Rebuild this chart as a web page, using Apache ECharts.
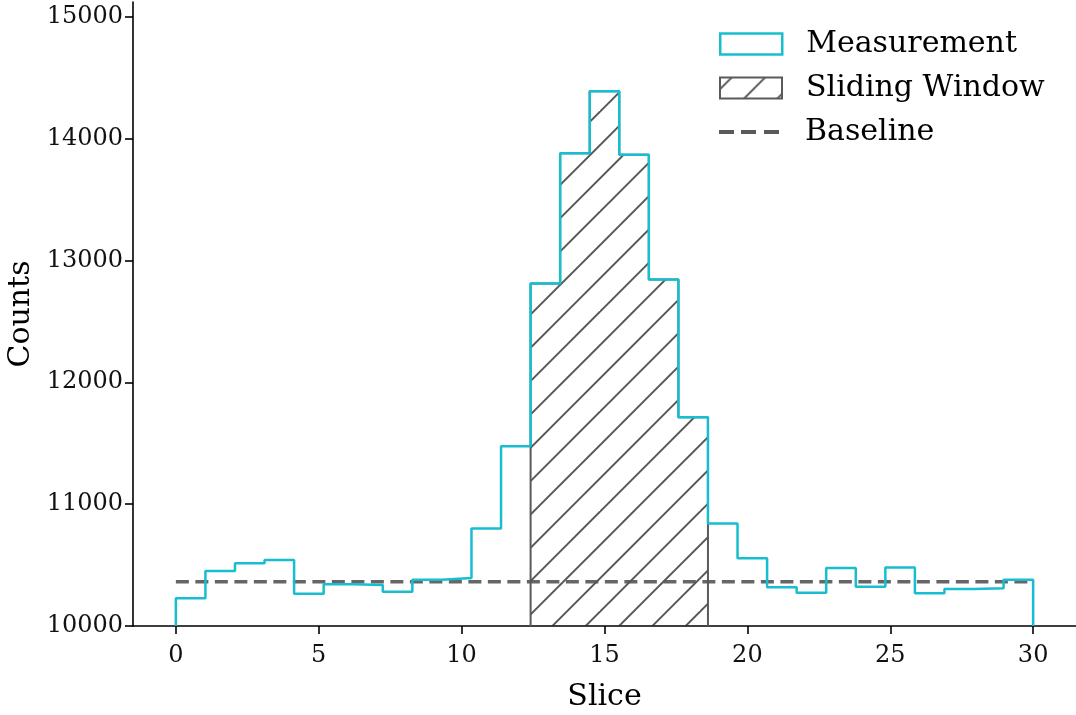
<!DOCTYPE html>
<html>
<head>
<meta charset="utf-8">
<script src="https://cdn.jsdelivr.net/npm/echarts@6/dist/echarts.min.js"></script>
<style>
  html, body { margin: 0; padding: 0; background: #fff; }
  #box { width: 1076px; height: 715px; }
</style>
</head>
<body>
<div id="box"></div>
<script>
// histogram counts per slice bin (29 bins spanning 0..30)
const counts = [10227, 10451, 10514, 10541, 10265, 10342, 10336, 10281, 10380, 10393,
  10800, 11475, 12811, 13880, 14388, 13866, 12844, 11713, 10842, 10555,
  10317, 10273, 10475, 10322, 10481, 10268, 10303, 10309, 10380];
const sliceRange = [0, 30];
// sliding window covers bins 12..17
const windowBins = [12, 18];
const baseline = 10363;
const xTicks = [0, 5, 10, 15, 20, 25, 30];
const yTicks = [10000, 11000, 12000, 13000, 14000, 15000];

const yMin = 10000;
const font = "DejaVu Serif";
const cyan = "#17becf";
const gray = "#5a5a5a";

// bin edges
const nBins = counts.length;
const edges = [];
for (let i = 0; i <= nBins; i++) {
  edges.push(sliceRange[0] + (sliceRange[1] - sliceRange[0]) * i / nBins);
}

// step outline between two bin indices
function stepPath(from, to) {
  const pts = [[edges[from], yMin]];
  for (let i = from; i < to; i++) {
    pts.push([edges[i], counts[i]]);
    pts.push([edges[i + 1], counts[i]]);
  }
  pts.push([edges[to], yMin]);
  return pts;
}

// hatch tile "/"
function hatchTile() {
  const c = document.createElement("canvas");
  c.width = 100;
  c.height = 100;
  const ctx = c.getContext("2d");
  ctx.strokeStyle = "rgba(45,45,45,0.8)";
  ctx.lineWidth = 1.9;
  const sp = 100 / 3;
  for (let k = -4; k <= 8; k++) {
    const s = 11.7 + k * sp; // x + y = s
    ctx.beginPath();
    ctx.moveTo(s + 50, -50);
    ctx.lineTo(s - 150, 150);
    ctx.stroke();
  }
  return c;
}
const hatch = { image: hatchTile(), repeat: "repeat" };

const legendText = { fontFamily: font, fontSize: 30, color: "#000", padding: [0, 0, 0, 19] };

const myChart = echarts.init(document.getElementById("box"));
const option = {
  backgroundColor: "#fff",
  animation: false,
  textStyle: { fontFamily: font },
  grid: { left: 133, right: 0, top: 2, bottom: 89, containLabel: false, outerBoundsMode: "none" },
  legend: [
    {
      left: 719, top: 29, padding: 0,
      itemWidth: 62, itemHeight: 21,
      textStyle: legendText,
      data: [{ name: "Measurement", icon: "rect",
        itemStyle: { color: "rgba(0,0,0,0)", borderColor: cyan, borderWidth: 2.5 } }],
    },
    {
      left: 719, top: 73, padding: 0,
      itemWidth: 62, itemHeight: 21,
      textStyle: legendText,
      data: [{ name: "Sliding Window", icon: "rect",
        itemStyle: { color: hatch, borderColor: gray, borderWidth: 2 } }],
    },
    {
      left: 719, top: 117, padding: 0,
      itemWidth: 60, itemHeight: 4,
      textStyle: Object.assign({}, legendText, { padding: [0, 0, 0, 21] }),
      data: [{ name: "Baseline",
        icon: "path://M0,0h15v4h-15z M22,0h15v4h-15z M45,0h15v4h-15z",
        itemStyle: { color: gray, borderWidth: 0 } }],
    },
  ],
  xAxis: {
    type: "value",
    min: -1.5,
    max: 31.5,
    name: "Slice",
    nameLocation: "middle",
    nameGap: 56,
    nameTextStyle: { fontFamily: font, fontSize: 30, color: "#000" },
    splitLine: { show: false },
    axisLine: { onZero: false, lineStyle: { color: "#000", width: 1.6 } },
    axisTick: { customValues: xTicks, length: 8, lineStyle: { color: "#000", width: 1.6 } },
    axisLabel: { customValues: xTicks, margin: 18, fontFamily: font, fontSize: 24, color: "#111" },
  },
  yAxis: {
    type: "value",
    min: yMin,
    max: 15120,
    name: "Counts",
    nameLocation: "middle",
    nameRotate: 90,
    nameGap: 97,
    nameTextStyle: { fontFamily: font, fontSize: 30, color: "#000" },
    splitLine: { show: false },
    axisLine: { show: true, onZero: false, lineStyle: { color: "#000", width: 1.6 } },
    axisTick: { show: true, customValues: yTicks, length: 8, lineStyle: { color: "#000", width: 1.6 } },
    axisLabel: { customValues: yTicks, margin: 10, fontFamily: font, fontSize: 24, color: "#111",
      formatter: (v) => String(v) },
  },
  series: [
    {
      name: "Sliding Window",
      type: "line",
      data: stepPath(windowBins[0], windowBins[1]),
      symbol: "none",
      z: 2,
      lineStyle: { color: gray, width: 2 },
      areaStyle: { color: hatch, opacity: 1, origin: "start" },
    },
    {
      name: "Measurement",
      type: "line",
      data: stepPath(0, nBins),
      symbol: "none",
      z: 4,
      lineStyle: { color: cyan, width: 2.5 },
    },
    {
      name: "Baseline",
      type: "line",
      data: [[sliceRange[0], baseline], [sliceRange[1], baseline]],
      symbol: "none",
      z: 3,
      lineStyle: { color: "#555", opacity: 0.9, width: 3.5, type: [13, 6.5] },
    },
  ],
};
myChart.setOption(option);
</script>
</body>
</html>
